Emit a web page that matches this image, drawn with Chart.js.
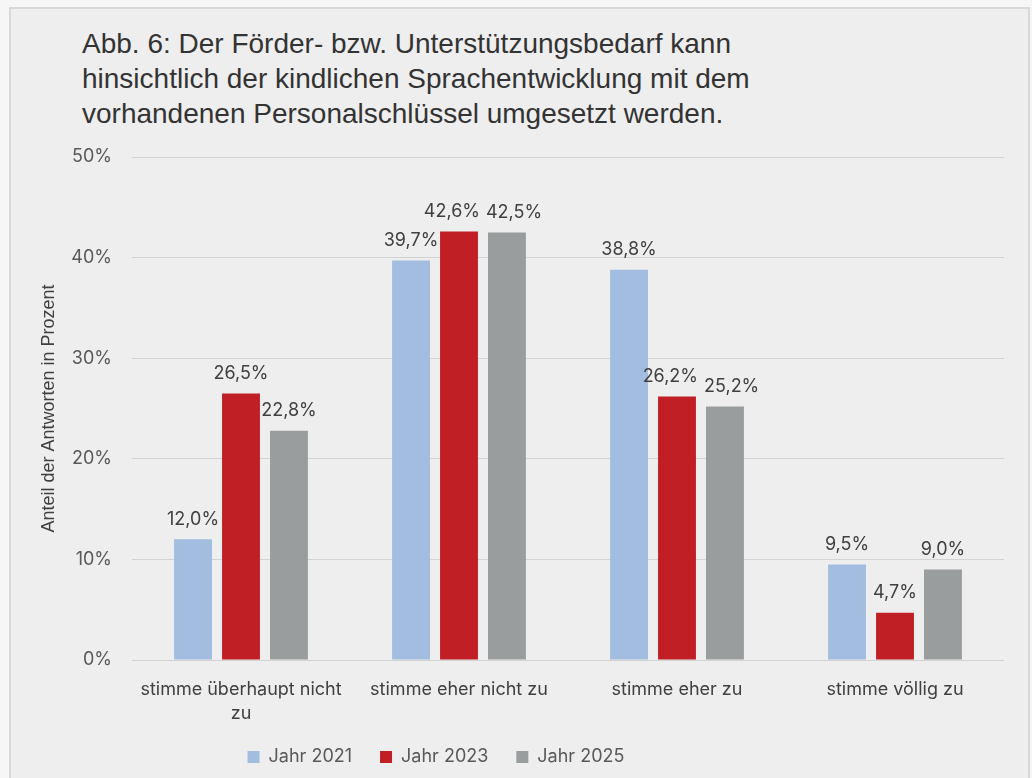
<!DOCTYPE html>
<html>
<head>
<meta charset="utf-8">
<script src="https://cdn.jsdelivr.net/npm/chart.js@4.4.1/dist/chart.umd.min.js"></script>
<style>
  body { margin: 0; background: #f6f6f6; }
  #frame { position: absolute; left: 9px; top: 7px; width: 1017px; height: 790px;
           background: #eeeeee; border: 2px solid #d8d8d8; }
  #title { position: absolute; left: 82px; top: 26px; font-family: "Liberation Sans", Arial, sans-serif;
           font-size: 28px; line-height: 35px; color: #333333; }
  #chart { position: absolute; left: 0; top: 0; }
</style>
</head>
<body>
<div id="frame"></div>
<div id="title">Abb. 6: Der Förder- bzw. Unterstützungsbedarf kann<br>hinsichtlich der kindlichen Sprachentwicklung mit dem<br>vorhandenen Personalschlüssel umgesetzt werden.</div>
<canvas id="chart" width="1032" height="778"></canvas>
<script>
var categories = [["stimme überhaupt nicht", "zu"], "stimme eher nicht zu", "stimme eher zu", "stimme völlig zu"];
var jahr2021 = [12.0, 39.7, 38.8, 9.5];
var jahr2023 = [26.5, 42.6, 26.2, 4.7];
var jahr2025 = [22.8, 42.5, 25.2, 9.0];
var yTicks = [0, 10, 20, 30, 40, 50];

document.addEventListener("DOMContentLoaded", function () {
    var tickFont = "Inter, 'Noto Sans', sans-serif";

    // Werte über den Balken, bei Überlappung etwas auseinanderschieben
    var valueLabels = {
        id: "valueLabels",
        afterDatasetsDraw: function (chart) {
            var ctx = chart.ctx;
            ctx.save();
            ctx.font = "18px " + tickFont;
            ctx.fillStyle = "#404040";
            ctx.textAlign = "center";
            ctx.textBaseline = "middle";
            var n = chart.data.labels.length;
            for (var j = 0; j < n; j++) {
                var items = chart.data.datasets.map(function (ds, i) {
                    var bar = chart.getDatasetMeta(i).data[j];
                    var txt = ds.data[j].toFixed(1).replace(".", ",") + "%";
                    return { txt: txt, x: bar.x, y: bar.y - 20, w: ctx.measureText(txt).width };
                });
                for (var k = 0; k < items.length - 1; k++) {
                    var a = items[k], b = items[k + 1];
                    var gap = (b.x - b.w / 2) - (a.x + a.w / 2);
                    if (gap < 6 && Math.abs(a.y - b.y) < 20) {
                        var s = (6 - gap) / 2;
                        a.x -= s;
                        b.x += s;
                    }
                }
                items.forEach(function (it) { ctx.fillText(it.txt, it.x, it.y); });
            }
            ctx.restore();
        }
    };

    // Legende etwas nach links wie im Original
    var legendShift = {
        id: "legendShift",
        afterLayout: function (chart) {
            var lg = chart.legend;
            var d = 436 - (lg.left + lg.right) / 2;
            lg.left += d;
            lg.right += d;
        }
    };

    new Chart(document.getElementById("chart").getContext("2d"), {
        type: "bar",
        data: {
            labels: categories,
            datasets: [
                { label: "Jahr 2021", data: jahr2021, backgroundColor: "#a3bde1" },
                { label: "Jahr 2023", data: jahr2023, backgroundColor: "#c11f26" },
                { label: "Jahr 2025", data: jahr2025, backgroundColor: "#9a9d9d" }
            ]
        },
        options: {
            responsive: false,
            animation: false,
            categoryPercentage: 0.66,
            barPercentage: 0.79,
            layout: { padding: { left: 34, right: 28, top: 157, bottom: 2 } },
            plugins: {
                tooltip: { enabled: false },
                legend: {
                    position: "bottom",
                    labels: {
                        boxWidth: 12, boxHeight: 12, padding: 28,
                        color: "#595959",
                        font: { family: tickFont, size: 18 }
                    }
                }
            },
            scales: {
                x: {
                    grid: { display: false, drawTicks: false },
                    border: { display: false },
                    ticks: {
                        color: "#404040", padding: 17,
                        font: { family: tickFont, size: 18, lineHeight: 1.35 },
                        maxRotation: 0
                    },
                    afterFit: function (s) { s.height = 60; }
                },
                y: {
                    min: 0, max: 50,
                    afterBuildTicks: function (s) { s.ticks = yTicks.map(function (v) { return { value: v }; }); },
                    grid: { color: "#d3d3d3", drawTicks: false, lineWidth: 1 },
                    border: { display: false },
                    ticks: {
                        color: "#595959", padding: 20,
                        font: { family: tickFont, size: 18 },
                        callback: function (v) { return v + "%"; }
                    },
                    title: {
                        display: true, text: "Anteil der Antworten in Prozent",
                        color: "#404040",
                        font: { family: "'Liberation Sans', Arial, sans-serif", size: 18 }
                    },
                    afterFit: function (s) { s.width = 98; }
                }
            }
        },
        plugins: [valueLabels, legendShift]
    });
});
</script>
</body>
</html>
